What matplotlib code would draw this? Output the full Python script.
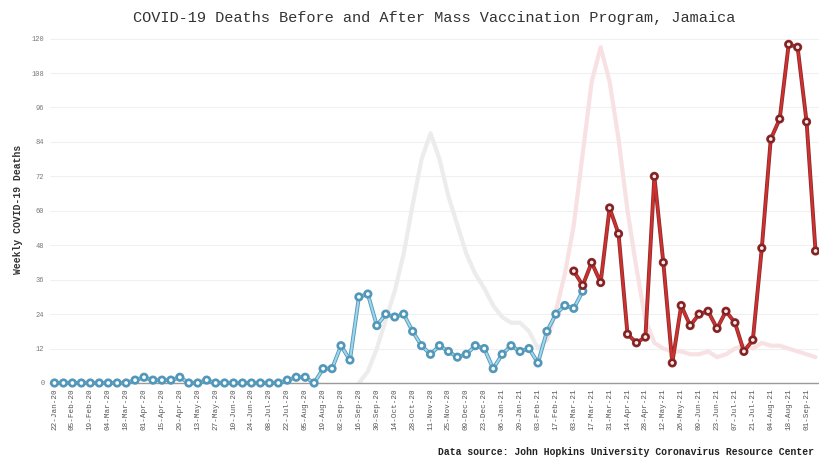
import numpy as np
import pandas as pd
from matplotlib import pyplot as plt
from matplotlib import patheffects as pe

# weekly dates (JHU series start), 86 weeks
weeks = pd.date_range("2020-01-22", periods=86, freq="7D")

# deaths before the mass vaccination programme (weeks 0..59)
before_deaths = [0, 0, 0, 0, 0, 0, 0, 0, 0, 1,
                 2, 1, 1, 1, 2, 0, 0, 1, 0, 0,
                 0, 0, 0, 0, 0, 0, 1, 2, 2, 0,
                 5, 5, 13, 8, 30, 31, 20, 24, 23, 24,
                 18, 13, 10, 13, 11, 9, 10, 13, 12, 5,
                 10, 13, 11, 12, 7, 18, 24, 27, 26, 32]

# deaths after the programme started (weeks 58..85)
after_start = 58
after_deaths = [39, 34, 42, 35, 61, 52, 17, 14, 16, 72,
                42, 7, 27, 20, 24, 25, 19, 25, 21, 11,
                15, 47, 85, 92, 118, 117, 91, 46]

# faint background trend (weeks 34..55 grey, 55..85 pink)
trend_before_start = 34
trend_before = [0, 4, 12, 22, 32, 45, 62, 78, 87, 78,
                65, 55, 45, 38, 33, 27, 23, 21, 21, 18,
                12, 15]
trend_after_start = 55
trend_after = [15, 25, 38, 55, 80, 105, 117, 105, 85, 60,
               40, 22, 14, 12, 11, 11, 10, 10, 11, 9,
               10, 12, 13, 12, 14, 13, 13, 12, 11, 10,
               9]

MONO = "Liberation Mono"

fig = plt.figure(figsize=(8.2, 4.63), dpi=100)
ax = fig.add_axes([0.061, 0.1728, 0.939, 0.750])

x_tb = np.arange(trend_before_start, trend_before_start + len(trend_before))
x_ta = np.arange(trend_after_start, trend_after_start + len(trend_after))
ax.plot(x_tb, trend_before, color="#ececec", lw=3, zorder=1, solid_capstyle="round")
ax.plot(x_ta, trend_after, color="#f8e1e3", lw=3, zorder=1, solid_capstyle="round")

x_b = np.arange(len(before_deaths))
ax.plot(x_b, before_deaths, color="#9ad8f0", lw=1.5, marker="o", ms=3.8,
        mfc="white", mec="#4b98c0", mew=1.1, zorder=3, clip_on=False,
        path_effects=[pe.Stroke(linewidth=2.8, foreground="#5a97b4"), pe.Normal()])

x_a = np.arange(after_start, after_start + len(after_deaths))
ax.plot(x_a, after_deaths, color="#d0312f", lw=1.6, marker="o", ms=3.8,
        mfc="#fbe9ea", mec="#7d1d1f", mew=1.1, zorder=4, clip_on=False,
        path_effects=[pe.Stroke(linewidth=2.8, foreground="#8e2b2c"), pe.Normal()])

ax.set_xlim(-0.5, 85.5)
ax.set_ylim(0, 121)
ax.set_yticks(np.arange(0, 121, 12))
ax.set_xticks(np.arange(0, 86, 2))
ax.set_xticklabels([d.strftime("%d-%b-%y") for d in weeks[::2]],
                   rotation=90, fontsize=5.5, family=MONO, color="#555555")
for lab in ax.get_yticklabels():
    lab.set_family(MONO)
    lab.set_fontsize(5)
    lab.set_color("#777777")
ax.tick_params(length=0, pad=4)
ax.grid(axis="y", color="#f0f0f0", lw=0.8)
ax.set_axisbelow(True)
for s in ["top", "right", "left"]:
    ax.spines[s].set_visible(False)
ax.spines["bottom"].set_color("#9a9a9a")
ax.spines["bottom"].set_linewidth(1)

ax.set_ylabel("Weekly COVID-19 Deaths", family=MONO, fontsize=7, fontweight="bold",
              color="#333333", labelpad=6)
fig.text(0.53, 0.962, "COVID-19 Deaths Before and After Mass Vaccination Program, Jamaica",
         ha="center", va="center", family=MONO, fontsize=11,
         color="#333333")
fig.text(0.993, 0.014, "Data source: John Hopkins University Coronavirus Resource Center",
         ha="right", va="bottom", family=MONO, fontsize=7, fontweight="bold",
         color="#222222")

fig.savefig("out.png", dpi=100)
